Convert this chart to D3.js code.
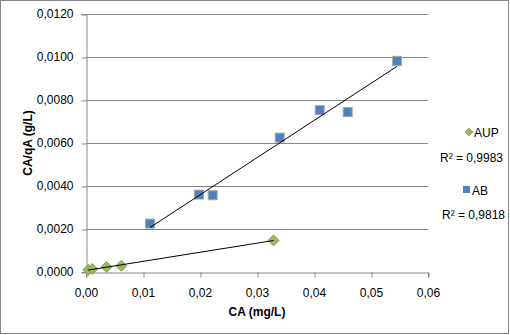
<!DOCTYPE html>
<html><head><meta charset="utf-8">
<script src="https://cdn.jsdelivr.net/npm/d3@7"></script>
<style>
html,body{margin:0;padding:0;background:#fff;}
svg text{font-family:"Liberation Sans",Arial,sans-serif;fill:#000;}
</style></head>
<body><div id="chart"></div>
<script>
const aupX = [0.0004, 0.0011, 0.0036, 0.0062, 0.0329];
const aupY = [0.00010, 0.00014, 0.00023, 0.00029, 0.00147];
const abX = [0.01123, 0.01982, 0.02222, 0.03398, 0.04100, 0.04591, 0.05456];
const abY = [0.00225, 0.00360, 0.00357, 0.00625, 0.00753, 0.00744, 0.00982];
const xTicks = [0, 0.01, 0.02, 0.03, 0.04, 0.05, 0.06];
const yTicks = [0, 0.002, 0.004, 0.006, 0.008, 0.010, 0.012];
const seriesNames = ["AUP", "AB"];
const r2Labels = ["R² = 0,9983", "R² = 0,9818"];

const W = 510, H = 335;
const svg = d3.select("#chart").append("svg").attr("width", W).attr("height", H);
svg.append("rect").attr("x",0.5).attr("y",0.5).attr("width",W-2).attr("height",H-2)
  .attr("fill","#fff").attr("stroke","#868686");

const x = d3.scaleLinear().domain([0,0.06]).range([86,428]);
const y = d3.scaleLinear().domain([0,0.012]).range([272,14]);
const grid = "#868686";
const fmtX = v => d3.format(".2f")(v).replace(".", ",");
const fmtY = v => d3.format(".4f")(v).replace(".", ",");

// gridlines
svg.append("g").selectAll("line").data(yTicks.filter(d=>d>0)).join("line")
  .attr("x1",x(0)).attr("x2",x(0.06)).attr("y1",d=>Math.round(y(d))+0.5).attr("y2",d=>Math.round(y(d))+0.5)
  .attr("stroke",grid).attr("stroke-width",1);

// axes
const xAxis = svg.append("g").attr("transform",`translate(0,${Math.round(y(0))+0.5})`)
  .call(d3.axisBottom(x).tickValues(xTicks).tickFormat(fmtX).tickSizeOuter(0).tickSize(5));
xAxis.select(".domain").attr("stroke",grid);
xAxis.selectAll(".tick line").attr("stroke",grid).attr("transform","translate(0.5,0)");
xAxis.selectAll("text").attr("font-size","12px").attr("dy","1.35em").attr("font-family","Liberation Sans, Arial, sans-serif");

const yAxis = svg.append("g").attr("transform",`translate(${x(0)+0.5},0)`)
  .call(d3.axisLeft(y).tickValues(yTicks).tickFormat(fmtY).tickSizeOuter(0).tickSize(5));
yAxis.select(".domain").attr("stroke",grid);
yAxis.selectAll(".tick line").attr("stroke",grid).attr("transform","translate(0,0.5)");
yAxis.selectAll("text").attr("font-size","12px").attr("x",-13).attr("font-family","Liberation Sans, Arial, sans-serif");

// axis titles
svg.append("text").attr("x",257).attr("y",316).attr("text-anchor","middle")
  .attr("font-size","12px").attr("font-weight","bold").text("CA (mg/L)");
svg.append("text").attr("transform","translate(32,143) rotate(-90)").attr("text-anchor","middle")
  .attr("font-size","12px").attr("font-weight","bold").text("CA/qA (g/L)");

// regression
function reg(xs, ys){
  const n = xs.length, mx = d3.mean(xs), my = d3.mean(ys);
  let sxy=0, sxx=0;
  for(let i=0;i<n;i++){ sxy+=(xs[i]-mx)*(ys[i]-my); sxx+=(xs[i]-mx)**2; }
  const m = sxy/sxx; return {m, b: my - m*mx};
}
function trend(xs, ys){
  const r = reg(xs, ys), x0 = d3.min(xs), x1 = d3.max(xs);
  svg.append("line").attr("x1",x(x0)).attr("y1",y(r.m*x0+r.b)).attr("x2",x(x1)).attr("y2",y(r.m*x1+r.b))
    .attr("stroke","#000").attr("stroke-width",1);
}

const aupData = aupX.map((v,i)=>({x:v,y:aupY[i]}));
const abData = abX.map((v,i)=>({x:v,y:abY[i]}));

// AB squares
svg.append("g").selectAll("rect").data(abData).join("rect")
  .attr("x",d=>x(d.x)-4.5).attr("y",d=>y(d.y)-4.5).attr("width",9).attr("height",9)
  .attr("fill","#4F81BD").attr("stroke","#A6A6A6").attr("stroke-width",1);
trend(abX, abY);

// AUP diamonds
const diamond = (cx,cy,r)=>`M${cx},${cy-r}L${cx+r},${cy}L${cx},${cy+r}L${cx-r},${cy}Z`;
svg.append("g").selectAll("path").data(aupData).join("path")
  .attr("d",d=>diamond(x(d.x),y(d.y),5.5))
  .attr("fill","#9BBB59").attr("stroke","#8A9A6A").attr("stroke-width",1);
trend(aupX, aupY);

// legend
const lg = svg.append("g");
lg.append("path").attr("d",diamond(469,132,4)).attr("fill","#9BBB59").attr("stroke","#8A9A6A").attr("stroke-width",0.8);
lg.append("text").attr("x",474).attr("y",136.5).attr("font-size","12px").text(seriesNames[0]);
lg.append("text").attr("x",440).attr("y",162).attr("font-size","12px").text(r2Labels[0]);
lg.append("rect").attr("x",463).attr("y",186).attr("width",7).attr("height",7).attr("fill","#4F81BD");
lg.append("text").attr("x",472).attr("y",194.5).attr("font-size","12px").text(seriesNames[1]);
lg.append("text").attr("x",442).attr("y",219).attr("font-size","12px").text(r2Labels[1]);
</script></body></html>
